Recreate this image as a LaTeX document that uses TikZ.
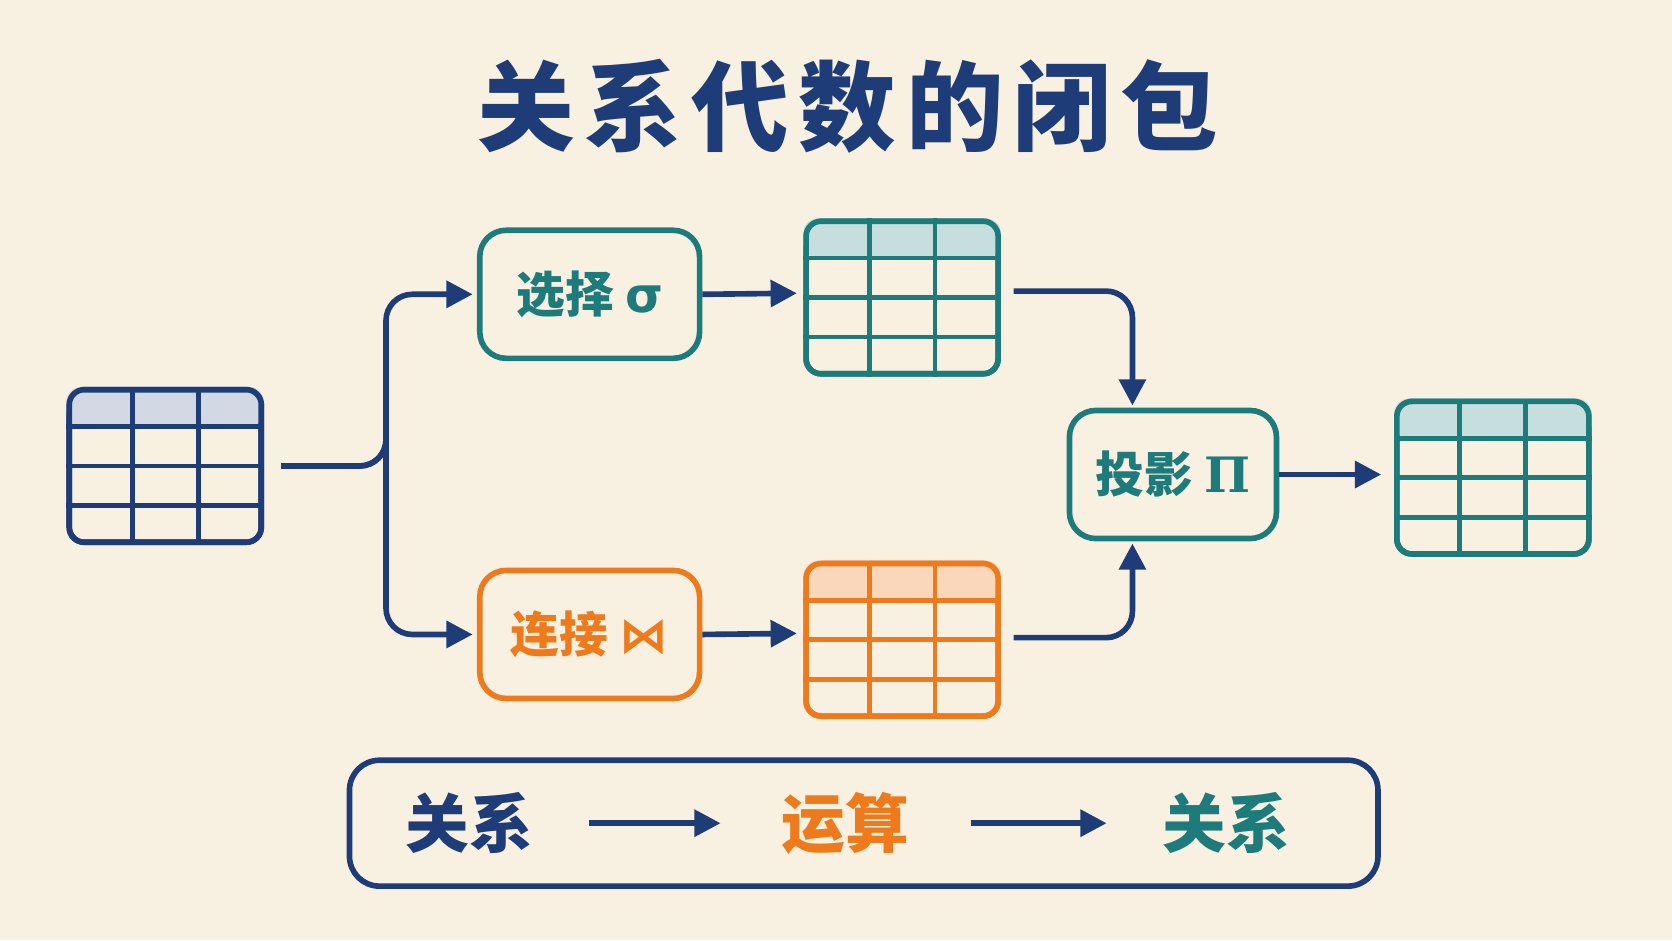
\documentclass[tikz,border=0pt]{standalone}
\usepackage{fontspec}
\setmainfont{Noto Sans CJK SC}
\newfontfamily\symfont{DejaVu Sans}
\newfontfamily\serifsym{DejaVu Serif}
\usetikzlibrary{calc,arrows.meta}
\definecolor{navy}{HTML}{1D3C78}
\definecolor{teal}{HTML}{1E7B7B}
\definecolor{orng}{HTML}{EE7A1C}
\definecolor{paper}{HTML}{F8F1E1}
\tikzset{
  op/.style={draw=#1,line width=1.5pt,rounded corners=7pt,fill=paper,text=#1,
    minimum width=2.06cm,minimum height=1.2cm,font=\fontsize{13}{16}\selectfont\bfseries},
  tbl/.style={draw=#1,line width=1.5pt,rounded corners=4pt,minimum width=1.8cm,minimum height=1.43cm},
  flow/.style={draw=navy,line width=1.5pt,-{Triangle[length=7pt,width=7pt]},rounded corners=7pt},
  big/.style={text=#1,font=\fontsize{17}{20}\selectfont\bfseries},
}
% table with shaded header row
\newcommand{\reltable}[4]{% name, at, colour, header
  \node[tbl=#3] (#1) at (#2) {};
  \fill[#4,rounded corners=4pt] (#1.north west) rectangle ($(#1.north east)!0.25!(#1.south east)$);
  \foreach \i in {1,2}
    \draw[#3,line width=1.3pt] ($(#1.north west)!\i/3!(#1.north east)$) -- ($(#1.south west)!\i/3!(#1.south east)$);
  \foreach \j in {1,2,3}
    \draw[#3,line width=1.3pt] ($(#1.north west)!\j/4!(#1.south west)$) -- ($(#1.north east)!\j/4!(#1.south east)$);
  \node[tbl=#3] at (#2) {};
}
\begin{document}
\begin{tikzpicture}[x=0.01cm,y=-0.01cm]
  \fill[paper] (0,0) rectangle (1568,882);
  % title
  \node[text=navy,font=\fontsize{26}{30}\selectfont\bfseries] (title) at (795,100) {关\kern.1em 系\kern.1em 代\kern.1em 数\kern.1em 的\kern.1em 闭\kern.1em 包};

  % tables
  \reltable{src}{155,437}{navy}{navy!20}
  \reltable{sel}{846,279}{teal}{teal!25}
  \reltable{joi}{846,600}{orng}{orng!30}
  \reltable{res}{1400,448}{teal}{teal!25}

  % operators
  \node[op=teal] (selop) at (553,276) {选择 {\symfont σ}};
  \node[op=orng] (joiop) at (553,595) {连接 {\symfont ⋈}};
  \node[op=teal,minimum width=1.94cm] (proj) at (1100,445) {投影 {\serifsym Π}};

  % fork
  \coordinate (fork) at (362,437);
  \draw[flow] ($(src.east)+(16,0)$) -| (fork) |- ($(selop.west)+(-4,0)$);
  \draw[flow] ($(src.east)+(16,0)$) -| (fork) |- ($(joiop.west)+(-4,0)$);
  \draw[flow] (selop.east) -- ($(sel.west)+(-6,-4)$);
  \draw[flow] (joiop.east) -- ($(joi.west)+(-6,-6)$);
  \draw[flow] ($(sel.east)+(12,-6)$) -| ($(proj.north)+(-38,-2)$);
  \draw[flow] ($(joi.east)+(12,-2)$) -| ($(proj.south)+(-38,2)$);
  \draw[flow] (proj.east) -- ($(res.west)+(-12,-3)$);

  % closure summary
  \node[draw=navy,line width=1.5pt,rounded corners=8pt,minimum width=9.64cm,minimum height=1.18cm] (sum) at (810,772) {};
  \node[big=navy] (r1) at (440,772) {关系};
  \node[big=orng] (ops) at (793,772) {运算};
  \node[big=teal] (r2) at (1150,772) {关系};
  \draw[flow] ($(r1.east)+(40,0)$) -- ($(ops.west)+(-45,0)$);
  \draw[flow] ($(ops.east)+(45,0)$) -- ($(r2.west)+(-40,0)$);
\end{tikzpicture}
\end{document}
